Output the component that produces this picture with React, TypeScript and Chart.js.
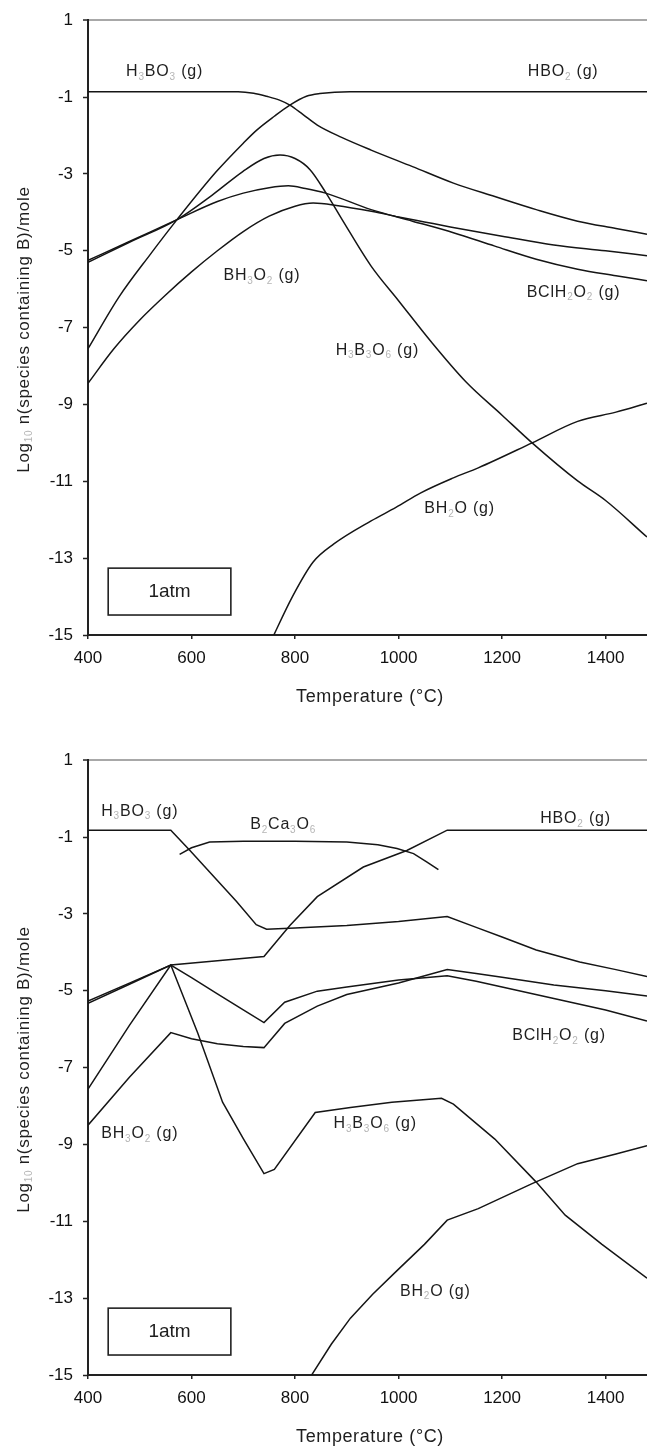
import React, { useEffect, useRef } from 'react';
import { Chart, registerables } from 'chart.js';

Chart.register(...registerables);

type P = [number, number];

const FONT = '"Liberation Sans", Arial, Helvetica, sans-serif';

// ---- axes ----
const xTickValues = [400, 600, 800, 1000, 1200, 1400];
const xTickLabels = ['400', '600', '800', '1000', '1200', '1400'];
const yTickValues = [1, -1, -3, -5, -7, -9, -11, -13, -15];
const yTickLabels = ['1', '-1', '-3', '-5', '-7', '-9', '-11', '-13', '-15'];

// ---- top chart (without Ca) ----
const topH3BO3: P[] = [[400, -0.86], [690, -0.86], [720, -0.9], [745, -0.98], [770, -1.08], [790, -1.21], [815, -1.45], [843, -1.73], [890, -2.05], [947, -2.38], [1027, -2.81], [1106, -3.24], [1186, -3.59], [1266, -3.93], [1346, -4.23], [1420, -4.42], [1480, -4.57]];
const topHBO2: P[] = [[400, -7.55], [460, -6.2], [520, -5.1], [572, -4.19], [648, -2.94], [700, -2.2], [726, -1.86], [760, -1.5], [790, -1.21], [822, -0.98], [848, -0.91], [906, -0.86], [1000, -0.86], [1480, -0.86]];
const topH3B3O6: P[] = [[400, -5.3], [480, -4.78], [572, -4.19], [640, -3.55], [699, -2.94], [740, -2.6], [771, -2.51], [800, -2.6], [829, -2.89], [860, -3.5], [891, -4.19], [947, -5.4], [1000, -6.3], [1063, -7.37], [1130, -8.41], [1200, -9.28], [1258, -10.0], [1346, -10.99], [1400, -11.5], [1480, -12.45]];
const topBClH2O2: P[] = [[400, -5.25], [480, -4.76], [572, -4.19], [650, -3.72], [700, -3.5], [750, -3.36], [787, -3.31], [820, -3.38], [859, -3.5], [947, -3.93], [1027, -4.23], [1106, -4.53], [1186, -4.88], [1266, -5.22], [1346, -5.48], [1420, -5.65], [1480, -5.78]];
const topBH3O2: P[] = [[400, -8.45], [450, -7.55], [500, -6.8], [550, -6.15], [600, -5.55], [650, -5.0], [700, -4.5], [750, -4.1], [800, -3.84], [835, -3.76], [880, -3.82], [950, -3.98], [1000, -4.12], [1050, -4.25], [1100, -4.38], [1200, -4.62], [1300, -4.85], [1400, -5.0], [1480, -5.13]];
const topBH2O: P[] = [[752, -15.2], [795, -14.0], [835, -13.1], [875, -12.63], [947, -12.03], [995, -11.68], [1043, -11.3], [1106, -10.91], [1154, -10.65], [1258, -10.0], [1346, -9.44], [1420, -9.2], [1480, -8.97]];

// ---- bottom chart (with Ca) ----
const botH3BO3: P[] = [[400, -0.82], [560, -0.82], [597, -1.35], [687, -2.68], [725, -3.28], [745, -3.4], [800, -3.37], [900, -3.3], [1000, -3.2], [1094, -3.07], [1150, -3.35], [1200, -3.6], [1266, -3.94], [1350, -4.25], [1420, -4.45], [1480, -4.63]];
const botHBO2: P[] = [[400, -7.56], [480, -5.9], [560, -4.33], [650, -4.22], [740, -4.11], [790, -3.3], [843, -2.55], [932, -1.78], [1016, -1.35], [1094, -0.82], [1480, -0.82]];
const botB2Ca3O6: P[] = [[577, -1.45], [600, -1.28], [635, -1.13], [700, -1.11], [800, -1.11], [900, -1.13], [960, -1.2], [997, -1.3], [1029, -1.43], [1055, -1.65], [1077, -1.85]];
const botH3B3O6: P[] = [[400, -5.33], [480, -4.83], [560, -4.33], [612, -6.1], [660, -7.9], [700, -8.85], [740, -9.76], [760, -9.65], [839, -8.17], [907, -8.04], [987, -7.9], [1083, -7.8], [1106, -7.95], [1186, -8.86], [1266, -9.98], [1322, -10.84], [1393, -11.6], [1480, -12.48]];
const botBClH2O2: P[] = [[400, -5.27], [480, -4.8], [560, -4.33], [600, -4.66], [650, -5.08], [700, -5.5], [740, -5.83], [780, -5.3], [843, -5.01], [900, -4.9], [1000, -4.72], [1094, -4.61], [1150, -4.75], [1200, -4.9], [1300, -5.2], [1400, -5.5], [1480, -5.79]];
const botBH3O2: P[] = [[400, -8.5], [480, -7.25], [560, -6.09], [600, -6.25], [650, -6.38], [700, -6.45], [740, -6.48], [780, -5.85], [843, -5.4], [900, -5.1], [1000, -4.8], [1094, -4.45], [1150, -4.55], [1200, -4.65], [1300, -4.85], [1400, -5.0], [1480, -5.14]];
const botBH2O: P[] = [[825, -15.15], [870, -14.2], [907, -13.52], [950, -12.9], [995, -12.31], [1050, -11.6], [1094, -10.97], [1154, -10.67], [1258, -10.02], [1346, -9.5], [1420, -9.25], [1480, -9.03]];

// ---- annotation texts ("_x" = subscript) ----
const topLabels = [
  { text: 'H_3BO_3 (g)', x: 548, y: -0.35 },
  { text: 'HBO_2 (g)', x: 1318, y: -0.35 },
  { text: 'BH_3O_2 (g)', x: 736, y: -5.65 },
  { text: 'BClH_2O_2 (g)', x: 1338, y: -6.08 },
  { text: 'H_3B_3O_6 (g)', x: 959, y: -7.59 },
  { text: 'BH_2O (g)', x: 1118, y: -11.72 },
];
const botLabels = [
  { text: 'H_3BO_3 (g)', x: 500, y: -0.33 },
  { text: 'B_2Ca_3O_6', x: 777, y: -0.68 },
  { text: 'HBO_2 (g)', x: 1342, y: -0.53 },
  { text: 'BClH_2O_2 (g)', x: 1310, y: -6.18 },
  { text: 'BH_3O_2 (g)', x: 500, y: -8.73 },
  { text: 'H_3B_3O_6 (g)', x: 955, y: -8.47 },
  { text: 'BH_2O (g)', x: 1071, y: -12.83 },
];
const boxSpec = { text: '1atm', x0: 439, x1: 676, y0: -13.26, y1: -14.48 };

function parseRich(s: string) {
  const parts: { t: string; sub: boolean }[] = [];
  let i = 0;
  let buf = '';
  while (i < s.length) {
    if (s[i] === '_') {
      if (buf) { parts.push({ t: buf, sub: false }); buf = ''; }
      if (s[i + 1] === '{') {
        const j = s.indexOf('}', i);
        parts.push({ t: s.slice(i + 2, j), sub: true });
        i = j + 1;
      } else {
        parts.push({ t: s[i + 1], sub: true });
        i += 2;
      }
    } else {
      buf += s[i];
      i++;
    }
  }
  if (buf) parts.push({ t: buf, sub: false });
  return parts;
}

function drawRich(ctx: CanvasRenderingContext2D, s: string, cx: number, cy: number, size: number, spacing: number) {
  const parts = parseRich(s);
  const mainF = `${size}px ${FONT}`;
  const subF = `${Math.round(size * 0.6)}px ${FONT}`;
  (ctx as any).letterSpacing = spacing + 'px';
  let w = 0;
  const ws = parts.map((p) => {
    ctx.font = p.sub ? subF : mainF;
    const m = ctx.measureText(p.t).width;
    w += m;
    return m;
  });
  let x = cx - w / 2;
  ctx.textAlign = 'left';
  ctx.textBaseline = 'middle';
  parts.forEach((p, k) => {
    ctx.font = p.sub ? subF : mainF;
    ctx.fillStyle = p.sub ? '#b5b5b5' : '#1e1e1e';
    ctx.fillText(p.t, x, p.sub ? cy + size * 0.32 : cy);
    x += ws[k];
  });
  (ctx as any).letterSpacing = '0px';
}

const annotPlugin = {
  id: 'annot',
  afterDatasetsDraw(chart: any, _args: any, opts: any) {
    const { ctx, chartArea } = chart;
    const xs = chart.scales.x;
    const ys = chart.scales.y;
    ctx.save();
    for (const l of opts.labels) {
      drawRich(ctx, l.text, xs.getPixelForValue(l.x), ys.getPixelForValue(l.y), 16, 0.8);
    }
    const b = opts.box;
    const bx0 = xs.getPixelForValue(b.x0);
    const bx1 = xs.getPixelForValue(b.x1);
    const by0 = ys.getPixelForValue(b.y0);
    const by1 = ys.getPixelForValue(b.y1);
    ctx.strokeStyle = '#222';
    ctx.lineWidth = 1.6;
    ctx.strokeRect(bx0, by0, bx1 - bx0, by1 - by0);
    drawRich(ctx, b.text, (bx0 + bx1) / 2, (by0 + by1) / 2, 19, 0);
    drawRich(ctx, 'Temperature (°C)', 370, chartArea.bottom + 62, 18, 0.6);
    ctx.translate(24, (chartArea.top + chartArea.bottom) / 2 + 2);
    ctx.rotate(-Math.PI / 2);
    drawRich(ctx, 'Log_{10} n(species containing B)/mole', 0, 0, 17, 0.7);
    ctx.restore();
  },
};

function makeDatasets(series: P[][], smooth: boolean) {
  return series.map((s) => ({
    data: s.map(([x, y]) => ({ x, y })),
    borderColor: '#151515',
    borderWidth: 1.5,
    pointRadius: 0,
    fill: false,
    tension: 0,
    cubicInterpolationMode: smooth ? ('monotone' as const) : ('default' as const),
  }));
}

function ChartPanel({ height, series, labels, smooth }: { height: number; series: P[][]; labels: any[]; smooth: boolean }) {
  const ref = useRef<HTMLCanvasElement>(null);
  useEffect(() => {
    const bottom = 635;
    const chart = new Chart(ref.current as HTMLCanvasElement, {
      type: 'line',
      data: { datasets: makeDatasets(series, smooth) as any },
      plugins: [annotPlugin as any],
      options: {
        animation: false,
        responsive: false,
        maintainAspectRatio: false,
        devicePixelRatio: 1,
        layout: { padding: { top: 16, right: 0, left: 0, bottom: 0 } },
        plugins: {
          legend: { display: false },
          tooltip: { enabled: false },
          annot: { labels, box: boxSpec },
        } as any,
        scales: {
          x: {
            type: 'linear',
            min: 400,
            max: 1480,
            afterBuildTicks: (s: any) => { s.ticks = xTickValues.map((v) => ({ value: v })); },
            afterFit: (s: any) => { s.height = height - bottom; },
            grid: { drawOnChartArea: false, tickLength: 4, color: '#222', lineWidth: 1.5 },
            border: { display: true, color: '#222', width: 2 },
            ticks: {
              font: { family: FONT, size: 17 },
              color: '#111',
              padding: 9,
              maxRotation: 0,
              autoSkip: false,
              callback: (v: any) => {
                const i = xTickValues.indexOf(Number(v));
                return i >= 0 ? xTickLabels[i] : '';
              },
            },
          },
          y: {
            type: 'linear',
            min: -15,
            max: 1,
            afterBuildTicks: (s: any) => { s.ticks = yTickValues.map((v) => ({ value: v })); },
            afterFit: (s: any) => { s.width = 88; },
            grid: {
              drawOnChartArea: true,
              tickLength: 5,
              color: (c: any) => (c.tick && c.tick.value === 1 ? '#a8a8a8' : 'rgba(0,0,0,0)'),
              lineWidth: (c: any) => (c.tick && c.tick.value === 1 ? 2 : 1),
              tickColor: '#222',
              tickWidth: 1.5,
            },
            border: { display: true, color: '#222', width: 2 },
            ticks: {
              font: { family: FONT, size: 17 },
              color: '#111',
              padding: 10,
              autoSkip: false,
              callback: (v: any) => {
                const i = yTickValues.indexOf(Number(v));
                return i >= 0 ? yTickLabels[i] : '';
              },
            },
          },
        },
      } as any,
    });
    return () => chart.destroy();
  }, []);
  return <canvas ref={ref} width={647} height={height} style={{ display: 'block', width: 647, height }} />;
}

export default function App() {
  useEffect(() => {
    document.body.style.margin = '0';
    document.body.style.background = '#fff';
  }, []);
  return (
    <div style={{ width: 647, height: 1449, overflow: 'hidden', background: '#fff' }}>
      <ChartPanel
        height={740}
        smooth={true}
        series={[topH3BO3, topHBO2, topH3B3O6, topBClH2O2, topBH3O2, topBH2O]}
        labels={topLabels}
      />
      <ChartPanel
        height={709}
        smooth={false}
        series={[botH3BO3, botHBO2, botB2Ca3O6, botH3B3O6, botBClH2O2, botBH3O2, botBH2O]}
        labels={botLabels}
      />
    </div>
  );
}
